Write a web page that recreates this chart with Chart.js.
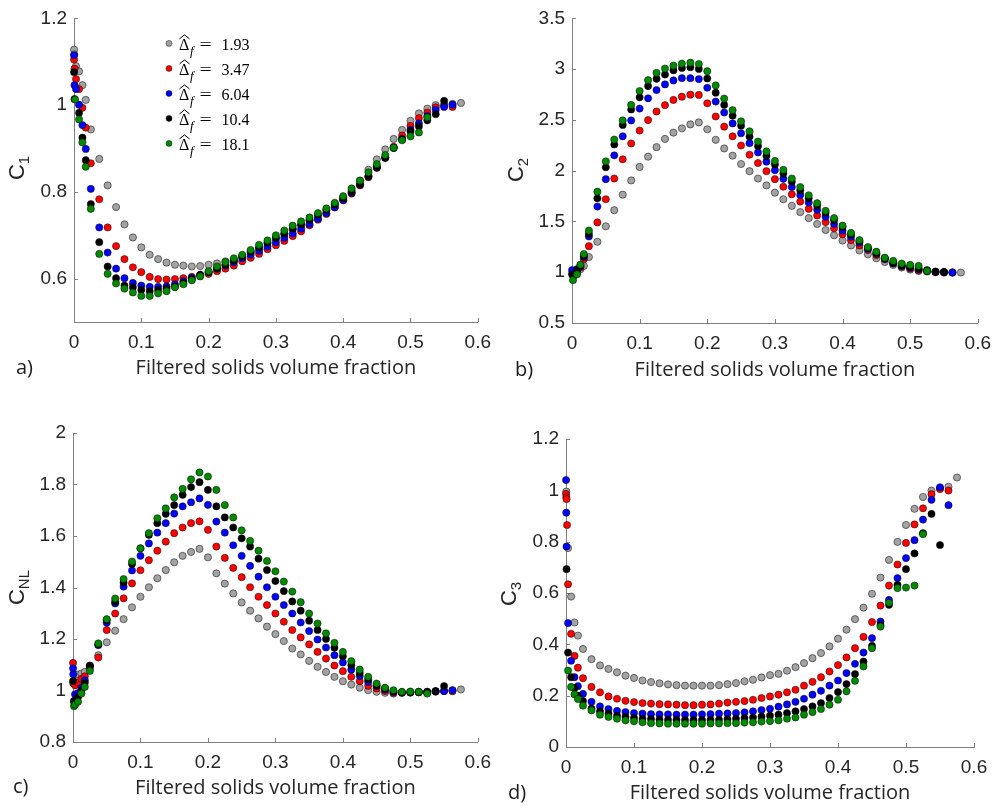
<!DOCTYPE html>
<html>
<head>
<meta charset="utf-8">
<script src="https://cdn.jsdelivr.net/npm/chart.js@4.4.0/dist/chart.umd.min.js"></script>
<style>
  html, body { margin: 0; padding: 0; background: #fff; }
  #wrap { position: relative; width: 1000px; height: 806px; }
  #wrap canvas { position: absolute; }
</style>
</head>
<body>
<div id="wrap">
  <canvas id="panelA" width="500" height="403" style="left:0;top:0"></canvas>
  <canvas id="panelB" width="500" height="403" style="left:500px;top:0"></canvas>
  <canvas id="panelC" width="500" height="403" style="left:0;top:403px"></canvas>
  <canvas id="panelD" width="500" height="403" style="left:500px;top:403px"></canvas>
</div>
<script>
// filtered solids volume fraction of each bin (fine bins near zero, then 0.0125 steps)
const phi = [0.0001, 0.0004, 0.0008, 0.0015, 0.003, 0.0075, 0.0125, 0.0175,
  0.025, 0.0375, 0.05, 0.0625, 0.075, 0.0875, 0.1, 0.1125, 0.125, 0.1375,
  0.15, 0.1625, 0.175, 0.1875, 0.2, 0.2125, 0.225, 0.2375, 0.25, 0.2625,
  0.275, 0.2875, 0.3, 0.3125, 0.325, 0.3375, 0.35, 0.3625, 0.375, 0.3875,
  0.4, 0.4125, 0.425, 0.4375, 0.45, 0.4625, 0.475, 0.4875, 0.5, 0.5125,
  0.525, 0.5375, 0.55, 0.5625, 0.575];

// dimensionless filter sizes, one series per filter
const filterSizes = ['1.93', '3.47', '6.04', '10.4', '18.1'];
const fillColors = ['#a3a3a3', '#ff0000', '#0000ff', '#000000', '#008a00'];

const xTicks = [0, 0.1, 0.2, 0.3, 0.4, 0.5, 0.6];

// C1
const c1_193 = [1.128, 1.117, null, null, 1.090, 1.078, 1.046, 1.012,
  0.944, 0.876, 0.815, 0.765, 0.725, 0.695, 0.672, 0.655, 0.645, 0.637, 0.632, 0.630, 0.628, 0.629, 0.632,
  0.635, 0.640, 0.643, 0.651, 0.660, 0.670, 0.681, 0.692, 0.702, 0.713, 0.723, 0.734, 0.746, 0.758, 0.772,
  0.787, 0.804, 0.826, 0.851, 0.875, 0.898, 0.922, 0.943, 0.964, 0.981, 0.992, 1.000, 1.002, 1.003, 1.005];
const c1_347 = [1.105, null, 1.084, null, 1.060, 1.037, 0.994, 0.948,
  0.866, 0.783, 0.718, 0.675, 0.645, 0.626, 0.615, 0.604, 0.599, 0.598, 0.599, 0.601, 0.604, 0.608, 0.611,
  0.617, 0.623, 0.630, 0.640, 0.648, 0.657, 0.668, 0.677, 0.687, 0.698, 0.709, 0.723, 0.736, 0.749, 0.764,
  0.781, 0.796, 0.815, 0.834, 0.855, 0.878, 0.904, 0.930, 0.952, 0.970, 0.983, 0.995, 0.998, 0.996];
const c1_604 = [1.115, null, 1.046, null, 1.037, 1.001, 0.954, 0.899,
  0.807, 0.718, 0.660, 0.623, 0.601, 0.590, 0.584, 0.581, 0.581, 0.582, 0.587, 0.594, 0.602, 0.609, 0.615,
  0.623, 0.630, 0.638, 0.647, 0.655, 0.664, 0.674, 0.684, 0.694, 0.704, 0.715, 0.726, 0.738, 0.751, 0.765,
  0.781, 0.798, 0.817, 0.836, 0.857, 0.879, 0.902, 0.922, 0.943, 0.958, 0.975, 0.989, 0.996, 1.001];
const c1_104 = [1.076, null, 1.014, null, null, 0.982, 0.925, 0.873,
  0.772, 0.684, 0.628, 0.601, 0.584, 0.580, 0.574, 0.571, 0.574, 0.577, 0.582, 0.590, 0.599, 0.608, 0.615,
  0.623, 0.632, 0.642, 0.651, 0.662, 0.672, 0.683, 0.694, 0.704, 0.715, 0.725, 0.736, 0.747, 0.758, 0.771,
  0.785, 0.800, 0.817, 0.836, 0.858, 0.879, 0.901, 0.921, 0.940, 0.951, 0.965, 0.979, 1.010];
const c1_181 = [null, null, null, 1.013, null, 0.967, 0.914, 0.858,
  0.761, 0.657, 0.611, 0.589, 0.577, 0.568, 0.560, 0.560, 0.566, 0.571, 0.580, 0.587, 0.596, 0.605, 0.617,
  0.628, 0.638, 0.647, 0.655, 0.666, 0.678, 0.688, 0.700, 0.711, 0.722, 0.732, 0.741, 0.751, 0.762, 0.775,
  0.790, 0.808, 0.826, 0.845, 0.864, 0.885, 0.902, 0.919, 0.928, 0.937, 0.972];

// C2
const c2_193 = [null, 0.99, null, null, 0.97, 1.00, 1.03, 1.062,
  1.150, 1.300, 1.452, 1.611, 1.764, 1.904, 2.037, 2.138, 2.232, 2.313, 2.375, 2.417, 2.456, 2.476, 2.408,
  2.304, 2.219, 2.148, 2.066, 1.995, 1.923, 1.855, 1.784, 1.719, 1.654, 1.592, 1.533, 1.475, 1.416, 1.364,
  1.312, 1.264, 1.215, 1.176, 1.137, 1.101, 1.072, 1.046, 1.026, 1.013, 1.007, 1.000, 0.997, 0.997, 0.997];
const c2_347 = [null, 0.98, null, null, 0.99, 1.02, 1.048, 1.127,
  1.257, 1.491, 1.719, 1.923, 2.112, 2.268, 2.395, 2.499, 2.583, 2.645, 2.697, 2.729, 2.749, 2.746, 2.664,
  2.534, 2.434, 2.339, 2.248, 2.157, 2.076, 1.995, 1.917, 1.842, 1.768, 1.696, 1.624, 1.559, 1.494, 1.433,
  1.374, 1.316, 1.264, 1.218, 1.169, 1.127, 1.085, 1.056, 1.036, 1.020, 1.013, 1.004, 1.000, 0.998];
const c2_604 = [1.02, null, null, null, 0.98, 1.03, 1.07, 1.15,
  1.352, 1.647, 1.917, 2.151, 2.339, 2.495, 2.612, 2.713, 2.794, 2.850, 2.889, 2.911, 2.911, 2.902, 2.817,
  2.681, 2.573, 2.466, 2.369, 2.271, 2.180, 2.089, 2.005, 1.920, 1.839, 1.761, 1.686, 1.615, 1.546, 1.475,
  1.410, 1.348, 1.290, 1.231, 1.182, 1.134, 1.091, 1.062, 1.046, 1.030, 1.013, 1.004, 1.000, 0.997];
const c2_104 = [null, 0.975, null, null, 0.97, 1.02, 1.06, 1.16,
  1.377, 1.728, 2.034, 2.258, 2.450, 2.603, 2.723, 2.833, 2.905, 2.947, 2.989, 3.012, 3.019, 3.002, 2.908,
  2.768, 2.648, 2.541, 2.443, 2.336, 2.242, 2.144, 2.060, 1.972, 1.891, 1.806, 1.728, 1.654, 1.585, 1.514,
  1.446, 1.371, 1.306, 1.241, 1.186, 1.137, 1.095, 1.069, 1.053, 1.036, 1.020, 1.007, 1.004];
const c2_181 = [null, null, null, 0.922, null, 0.98, 1.074, 1.179,
  1.410, 1.793, 2.092, 2.307, 2.495, 2.648, 2.785, 2.892, 2.963, 3.006, 3.035, 3.054, 3.064, 3.051, 2.980,
  2.840, 2.710, 2.596, 2.486, 2.388, 2.287, 2.190, 2.096, 2.008, 1.923, 1.839, 1.758, 1.680, 1.605, 1.533,
  1.459, 1.387, 1.316, 1.247, 1.202, 1.143, 1.111, 1.085, 1.072, 1.062, 1.013];

// CNL
const cnl_193 = [null, 1.03, null, null, 1.06, 1.062, 1.066, 1.072,
  1.095, 1.137, 1.187, 1.232, 1.277, 1.323, 1.364, 1.401, 1.436, 1.468, 1.498, 1.523, 1.538, 1.550, 1.517,
  1.455, 1.415, 1.377, 1.342, 1.310, 1.280, 1.248, 1.219, 1.192, 1.163, 1.140, 1.115, 1.092, 1.072, 1.053,
  1.036, 1.023, 1.011, 1.001, 0.995, 0.991, 0.988, 0.991, 0.992, 0.993, 0.992, 0.996, 0.998, 1.001, 1.004];
const cnl_347 = [1.107, null, 1.027, null, 1.02, 1.03, 1.045, 1.055,
  1.085, 1.128, 1.235, 1.299, 1.358, 1.416, 1.467, 1.506, 1.543, 1.578, 1.611, 1.633, 1.650, 1.657, 1.624,
  1.559, 1.515, 1.476, 1.440, 1.401, 1.364, 1.332, 1.299, 1.267, 1.235, 1.206, 1.179, 1.150, 1.124, 1.097,
  1.075, 1.053, 1.036, 1.018, 1.008, 0.998, 0.991, 0.991, 0.992, 0.993, 0.993, 0.996, 0.998, 0.997];
const cnl_604 = [1.086, 1.063, null, 0.956, 0.985, 0.99, 1.01, 1.04,
  1.095, 1.176, 1.263, 1.338, 1.403, 1.466, 1.523, 1.571, 1.613, 1.650, 1.687, 1.715, 1.731, 1.746, 1.721,
  1.656, 1.613, 1.564, 1.523, 1.484, 1.442, 1.401, 1.364, 1.332, 1.299, 1.264, 1.231, 1.198, 1.167, 1.137,
  1.109, 1.081, 1.056, 1.033, 1.017, 1.004, 0.995, 0.993, 0.994, 0.995, 0.995, 0.997, 0.998, 1.001];
const cnl_104 = [1.037, null, null, 0.96, 0.949, 0.975, 1.00, 1.03,
  1.097, 1.179, 1.273, 1.345, 1.419, 1.491, 1.552, 1.604, 1.650, 1.686, 1.720, 1.760, 1.790, 1.809, 1.779,
  1.715, 1.672, 1.633, 1.591, 1.559, 1.512, 1.468, 1.425, 1.386, 1.346, 1.310, 1.271, 1.235, 1.200, 1.166,
  1.133, 1.098, 1.068, 1.043, 1.020, 1.008, 0.998, 0.993, 0.993, 0.994, 0.995, 0.998, 1.017];
const cnl_181 = [null, null, null, 0.939, 0.945, 0.956, 0.988, 1.014,
  1.076, 1.183, 1.277, 1.357, 1.433, 1.501, 1.552, 1.611, 1.669, 1.707, 1.750, 1.783, 1.820, 1.847, 1.831,
  1.779, 1.720, 1.672, 1.622, 1.581, 1.543, 1.503, 1.463, 1.423, 1.384, 1.343, 1.299, 1.260, 1.222, 1.185,
  1.150, 1.114, 1.081, 1.053, 1.027, 1.011, 1.001, 0.995, 0.996, 0.995, 0.988];

// C3
const c3_193 = [null, 0.995, null, null, 0.775, 0.586, 0.485, 0.434,
  0.382, 0.342, 0.318, 0.304, 0.291, 0.278, 0.269, 0.259, 0.253, 0.248, 0.244, 0.241, 0.239, 0.239, 0.239,
  0.239, 0.241, 0.245, 0.249, 0.256, 0.262, 0.271, 0.280, 0.285, 0.297, 0.311, 0.327, 0.346, 0.366, 0.392,
  0.422, 0.457, 0.498, 0.543, 0.597, 0.660, 0.729, 0.799, 0.865, 0.928, 0.974, 0.999, 1.008, 1.014, 1.050];
const c3_347 = [0.986, 0.973, 0.966, 0.865, 0.634, 0.441, 0.355, 0.309,
  0.268, 0.234, 0.213, 0.197, 0.188, 0.180, 0.175, 0.171, 0.169, 0.167, 0.166, 0.165, 0.163, 0.163, 0.165,
  0.166, 0.169, 0.173, 0.176, 0.179, 0.184, 0.191, 0.197, 0.204, 0.213, 0.223, 0.239, 0.254, 0.272, 0.294,
  0.319, 0.349, 0.385, 0.429, 0.487, 0.551, 0.629, 0.711, 0.795, 0.867, 0.930, 0.985, 1.005, 0.999];
const c3_604 = [1.040, 0.913, 0.781, null, 0.483, 0.336, 0.272, 0.237,
  0.207, 0.176, 0.158, 0.148, 0.141, 0.136, 0.132, 0.130, 0.128, 0.127, 0.127, 0.126, 0.126, 0.126, 0.127,
  0.128, 0.130, 0.131, 0.132, 0.135, 0.139, 0.144, 0.149, 0.157, 0.166, 0.176, 0.188, 0.204, 0.219, 0.239,
  0.259, 0.288, 0.324, 0.368, 0.424, 0.489, 0.573, 0.658, 0.736, 0.806, 0.886, 0.963, 1.012, 0.942];
const c3_104 = [null, null, 0.693, null, 0.368, 0.272, 0.230, 0.200,
  0.179, 0.150, 0.139, 0.130, 0.122, 0.117, 0.113, 0.110, 0.109, 0.107, 0.106, 0.106, 0.105, 0.105, 0.105,
  0.106, 0.106, 0.109, 0.110, 0.113, 0.115, 0.118, 0.122, 0.126, 0.132, 0.139, 0.148, 0.158, 0.171, 0.191,
  0.214, 0.245, 0.284, 0.333, 0.394, 0.475, 0.554, 0.632, 0.693, 0.754, 0.833, 0.908, 0.787];
const c3_181 = [null, null, null, null, 0.298, 0.234, 0.205, 0.187,
  0.161, 0.143, 0.126, 0.117, 0.110, 0.104, 0.100, 0.096, 0.093, 0.092, 0.091, 0.091, 0.091, 0.091, 0.091,
  0.092, 0.092, 0.093, 0.093, 0.095, 0.096, 0.099, 0.101, 0.104, 0.110, 0.115, 0.126, 0.136, 0.148, 0.165,
  0.184, 0.217, 0.258, 0.314, 0.385, 0.469, 0.562, 0.619, 0.621, 0.629, 0.829];

const AXIS_GRAY = '#808080';
const TEXT_GRAY = '#262626';
const SANS = '"Liberation Sans", Arial, sans-serif';
const TITLE_FONT = '"Open Sans", "Liberation Sans", sans-serif';
const SERIF = '"Liberation Serif", "DejaVu Serif", serif';

function makeDatasets(series) {
  return series.map((ys, i) => ({
    label: filterSizes[i],
    data: ys.map((y, k) => ({ x: phi[k], y: y })).filter(p => p.y !== null),
    backgroundColor: fillColors[i],
    borderColor: 'rgba(0,0,0,0.55)',
    borderWidth: 0.9,
    pointRadius: 3.6,
    pointHoverRadius: 3.6,
    clip: false,
    order: series.length - 1 - i   // last filter drawn on top
  }));
}

function fmt(v) {
  return String(Math.round(v * 100) / 100);
}

// y title with a subscript, rotated like a normal axis label
function drawSubTitle(ctx, main, sub, cx, cy) {
  ctx.save();
  ctx.translate(cx, cy);
  ctx.rotate(-Math.PI / 2);
  ctx.fillStyle = TEXT_GRAY;
  ctx.textBaseline = 'alphabetic';
  ctx.font = '22px ' + SANS;
  const w1 = ctx.measureText(main).width;
  ctx.font = '15px ' + SANS;
  const w2 = ctx.measureText(sub).width;
  const x0 = -(w1 + w2) / 2;
  ctx.font = '22px ' + SANS;
  ctx.fillText(main, x0, 8);
  ctx.font = '15px ' + SANS;
  ctx.fillText(sub, x0 + w1, 13);
  ctx.restore();
}

// legend entry: marker, Delta-hat with subscript f, and the value
function drawLegend(chart) {
  const ctx = chart.ctx;
  const area = chart.chartArea;
  ctx.save();
  filterSizes.forEach((val, i) => {
    const yc = area.top + 25 + 25 * i;
    const mx = area.left + 95;
    ctx.beginPath();
    ctx.arc(mx, yc, 3, 0, Math.PI * 2);
    ctx.fillStyle = fillColors[i];
    ctx.fill();
    ctx.lineWidth = 0.8;
    ctx.strokeStyle = 'rgba(0,0,0,0.55)';
    ctx.stroke();

    const tx = mx + 10;
    ctx.fillStyle = '#000';
    ctx.textBaseline = 'alphabetic';
    ctx.font = '16px ' + SERIF;
    ctx.fillText('\u0394', tx, yc + 7);
    // hat over the Delta
    ctx.beginPath();
    ctx.moveTo(tx + 0.5, yc - 4.5);
    ctx.lineTo(tx + 5.5, yc - 8.5);
    ctx.lineTo(tx + 10.5, yc - 4.5);
    ctx.lineWidth = 1;
    ctx.strokeStyle = '#000';
    ctx.stroke();
    ctx.font = 'italic 13px ' + SERIF;
    ctx.fillText('f', tx + 11, yc + 12);
    // wide equals sign, stretched horizontally
    ctx.save();
    ctx.translate(tx + 20.5, yc + 7);
    ctx.scale(1.35, 1);
    ctx.font = '16px ' + SERIF;
    ctx.fillText('=', 0, 0);
    ctx.restore();
    ctx.font = '16px ' + SERIF;
    ctx.fillText(val, tx + 42.5, yc + 7);
  });
  ctx.restore();
}

const axisDecor = {
  id: 'axisDecor',
  beforeDatasetsDraw(chart) {
    // short inward tick marks on both axes
    const { ctx, chartArea: a, scales: { x, y } } = chart;
    ctx.save();
    ctx.strokeStyle = AXIS_GRAY;
    ctx.lineWidth = 1;
    ctx.beginPath();
    x.ticks.forEach(t => {
      const px = Math.round(x.getPixelForValue(t.value)) + 0.5;
      ctx.moveTo(px, a.bottom);
      ctx.lineTo(px, a.bottom - 4);
    });
    y.ticks.forEach(t => {
      const py = Math.round(y.getPixelForValue(t.value)) + 0.5;
      ctx.moveTo(a.left, py);
      ctx.lineTo(a.left + 4, py);
    });
    ctx.stroke();
    ctx.restore();
  },
  afterDraw(chart, args, opts) {
    const ctx = chart.ctx;
    drawSubTitle(ctx, 'C', opts.sub, opts.titleX, opts.titleY);
    ctx.save();
    ctx.fillStyle = '#1a1a1a';
    ctx.font = '20px ' + TITLE_FONT;
    ctx.textBaseline = 'middle';
    ctx.fillText(opts.tag, opts.tagX, opts.tagY);
    ctx.restore();
    if (opts.legend) drawLegend(chart);
  }
};

function panel(id, series, p) {
  return new Chart(document.getElementById(id), {
    type: 'scatter',
    data: { datasets: makeDatasets(series) },
    options: {
      responsive: false,
      animation: false,
      events: [],
      layout: { padding: { left: 0, top: p.top, right: 500 - p.right, bottom: 0 } },
      plugins: {
        legend: { display: false },
        tooltip: { enabled: false },
        axisDecor: p.decor
      },
      scales: {
        x: {
          type: 'linear',
          min: 0,
          max: 0.6,
          afterBuildTicks: s => { s.ticks = xTicks.map(v => ({ value: v })); },
          afterFit: s => { s.height = 403 - p.bottom; },
          grid: { display: false, drawTicks: false },
          border: { display: true, color: AXIS_GRAY, width: 1 },
          ticks: {
            padding: 9,
            color: TEXT_GRAY,
            font: { family: SANS, size: 19 },
            maxRotation: 0,
            callback: v => fmt(v)
          },
          title: {
            display: true,
            text: 'Filtered solids volume fraction',
            color: TEXT_GRAY,
            font: { family: TITLE_FONT, size: 20 },
            padding: { top: 0, bottom: p.titlePad }
          }
        },
        y: {
          type: 'linear',
          min: p.yMin,
          max: p.yMax,
          afterBuildTicks: s => { s.ticks = p.yTicks.map(v => ({ value: v })); },
          afterFit: s => { s.width = p.left; },
          grid: { display: false, drawTicks: false },
          border: { display: true, color: AXIS_GRAY, width: 1 },
          ticks: {
            padding: 7,
            color: TEXT_GRAY,
            font: { family: SANS, size: 19 },
            callback: v => fmt(v)
          }
        }
      }
    },
    plugins: [axisDecor]
  });
}

panel('panelA', [c1_193, c1_347, c1_604, c1_104, c1_181], {
  left: 74, right: 483, top: 13, bottom: 322, titlePad: 23,
  yMin: 0.5, yMax: 1.2, yTicks: [0.6, 0.8, 1, 1.2],
  decor: { sub: '1', titleX: 15.5, titleY: 168, tag: 'a)', tagX: 16, tagY: 368, legend: true }
});
panel('panelB', [c2_193, c2_347, c2_604, c2_104, c2_181], {
  left: 72, right: 481, top: 15, bottom: 323, titlePad: 21,
  yMin: 0.5, yMax: 3.5, yTicks: [0.5, 1, 1.5, 2, 2.5, 3, 3.5],
  decor: { sub: '2', titleX: 15, titleY: 170, tag: 'b)', tagX: 15, tagY: 370, legend: false }
});
panel('panelC', [cnl_193, cnl_347, cnl_604, cnl_104, cnl_181], {
  left: 73, right: 481, top: 30, bottom: 339, titlePad: 6,
  yMin: 0.8, yMax: 2, yTicks: [0.8, 1, 1.2, 1.4, 1.6, 1.8, 2],
  decor: { sub: 'NL', titleX: 15.5, titleY: 184.5, tag: 'c)', tagX: 13, tagY: 384, legend: false }
});
panel('panelD', [c3_193, c3_347, c3_604, c3_104, c3_181], {
  left: 66, right: 474, top: 36, bottom: 344, titlePad: 1,
  yMin: 0, yMax: 1.2, yTicks: [0, 0.2, 0.4, 0.6, 0.8, 1, 1.2],
  decor: { sub: '3', titleX: 7.5, titleY: 191, tag: 'd)', tagX: 8, tagY: 390, legend: false }
});
</script>
</body>
</html>
